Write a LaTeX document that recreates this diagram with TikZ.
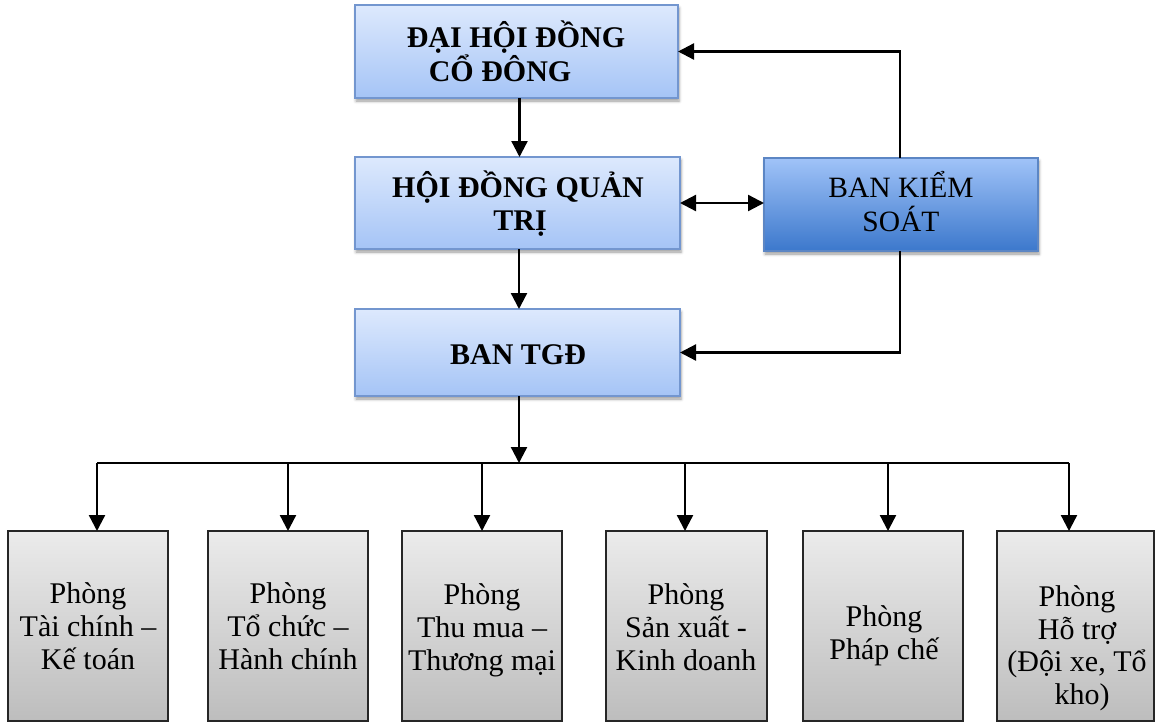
\documentclass[tikz,border=0pt]{standalone}
\usepackage{fontspec}
\setmainfont{Liberation Serif}
\usetikzlibrary{arrows.meta,shadows.blur}
\definecolor{blueTop}{HTML}{DDE9FD}
\definecolor{blueBot}{HTML}{A5C4F6}
\definecolor{blueBorder}{HTML}{7396CF}
\definecolor{bksTop}{HTML}{A0C3F8}
\definecolor{bksBot}{HTML}{3C78CC}
\definecolor{bksBorder}{HTML}{5C86C4}
\definecolor{grayTop}{HTML}{EBEBEB}
\definecolor{grayBot}{HTML}{BDBDBD}
\definecolor{grayBorder}{HTML}{262626}
\begin{document}
\begin{tikzpicture}[x=1pt,y=-1pt,
  boxbase/.style={inner sep=0pt, outer sep=0pt},
  bluebox/.style={boxbase, draw=blueBorder, line width=1.3pt, top color=blueTop, bottom color=blueBot,
    blur shadow={shadow xshift=1pt, shadow yshift=-3pt, shadow blur radius=3pt, shadow opacity=40}},
  bksbox/.style={boxbase, draw=bksBorder, line width=1.3pt, top color=bksTop, bottom color=bksBot,
    blur shadow={shadow xshift=1pt, shadow yshift=-3pt, shadow blur radius=3pt, shadow opacity=40}},
  graybox/.style={boxbase, draw=grayBorder, line width=1.4pt, top color=grayTop, bottom color=grayBot,
    minimum width=160pt, minimum height=190pt},
  btext/.style={inner sep=0pt, anchor=base, font=\fontsize{30}{34}\selectfont\bfseries},
  rtext/.style={inner sep=0pt, anchor=base, font=\fontsize{30}{33}\selectfont},
  arr/.style={line width=2.3pt, -{Triangle[length=16pt,width=16pt]}},
  arrboth/.style={line width=2.3pt, {Triangle[length=16pt,width=16pt]}-{Triangle[length=16pt,width=16pt]}},
  busline/.style={line width=1.3pt}
]
\useasboundingbox (0,0) rectangle (1155,723);

% boxes
\node[bluebox, minimum width=323pt, minimum height=93pt] (dhd) at (516.5,51.5) {};
\node[bluebox, minimum width=325pt, minimum height=92pt] (hdqt) at (517.5,203) {};
\node[bksbox, minimum width=274pt, minimum height=93pt] (bks) at (901,204.5) {};
\node[bluebox, minimum width=325pt, minimum height=87pt] (tgd) at (517.5,352.5) {};

\node[graybox] (b1) at (88,626) {};
\node[graybox] (b2) at (288,626) {};
\node[graybox] (b3) at (482,626) {};
\node[graybox, minimum width=161pt] (b4) at (686.5,626) {};
\node[graybox] (b5) at (883,626) {};
\node[graybox, minimum width=157pt] (b6) at (1075.5,626) {};

% texts
\node[btext] (t1a) at (516,47) {ĐẠI HỘI ĐỒNG};
\node[btext] (t1b) at (500,81) {CỔ ĐÔNG};
\node[btext] (t2a) at (518,197) {HỘI ĐỒNG QUẢN};
\node[btext] (t2b) at (520,230) {TRỊ};
\node[btext] (t3a) at (518,364) {BAN TGĐ};
\node[rtext, font=\fontsize{29.5}{33}\selectfont] (t4a) at (901,197) {BAN KIỂM};
\node[rtext, font=\fontsize{29.5}{33}\selectfont] (t4b) at (901,231) {SOÁT};

\node[rtext] (p1a) at (88,603) {Phòng};
\node[rtext] (p1b) at (88,636) {Tài chính –};
\node[rtext] (p1c) at (88,669) {Kế toán};
\node[rtext] (p2a) at (288,603) {Phòng};
\node[rtext] (p2b) at (288,636) {Tổ chức –};
\node[rtext] (p2c) at (288,669) {Hành chính};
\node[rtext] (p3a) at (482,604) {Phòng};
\node[rtext] (p3b) at (482,637) {Thu mua –};
\node[rtext] (p3c) at (482,670) {Thương mại};
\node[rtext] (p4a) at (686,604) {Phòng};
\node[rtext] (p4b) at (686,637) {Sản xuất -};
\node[rtext] (p4c) at (686,670) {Kinh doanh};
\node[rtext] (p5a) at (884,626) {Phòng};
\node[rtext] (p5b) at (884,659) {Pháp chế};
\node[rtext] (p6a) at (1077,606) {Phòng};
\node[rtext] (p6b) at (1077,639) {Hỗ trợ};
\node[rtext] (p6c) at (1077,671) {(Đội xe, Tổ};
\node[rtext] (p6d) at (1082,704) {kho)};

% connectors
\draw[arr] ([xshift=3pt]dhd.south) -- ([xshift=3pt]dhd.south |- hdqt.north);
\draw[arr] ([xshift=1.5pt]hdqt.south) -- ([xshift=1.5pt]hdqt.south |- tgd.north);
\draw[arrboth] (hdqt.east) -- (hdqt.east -| bks.west);
\draw[arr] ([xshift=-1pt]bks.north) |- (dhd.east);
\draw[arr] ([xshift=-1pt]bks.south) |- (tgd.east);

\coordinate (bus) at (519,463);
\coordinate (d1) at (97,463);
\coordinate (d2) at (288,463);
\coordinate (d3) at (482,463);
\coordinate (d4) at (685,463);
\coordinate (d5) at (888,463);
\coordinate (d6) at (1069,463);
\draw[arr] ([xshift=1.5pt]tgd.south) -- (bus);
\draw[busline] (d1) -- (d6);
\draw[arr] (d1) -- (d1 |- b1.north);
\draw[arr] (d2) -- (d2 |- b2.north);
\draw[arr] (d3) -- (d3 |- b3.north);
\draw[arr] (d4) -- (d4 |- b4.north);
\draw[arr] (d5) -- (d5 |- b5.north);
\draw[arr] (d6) -- (d6 |- b6.north);
\end{tikzpicture}
\end{document}
